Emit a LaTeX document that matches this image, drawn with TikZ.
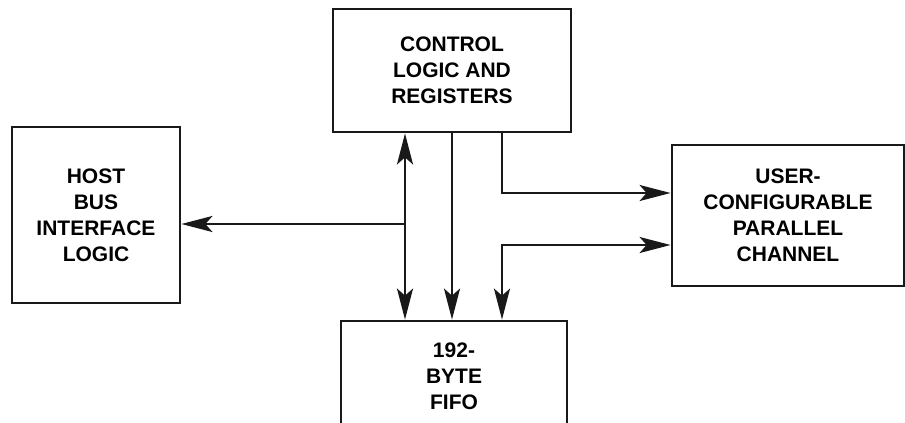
\documentclass[tikz,border=0pt]{standalone}
\usepackage{fontspec}
\setmainfont{Liberation Sans}
\usetikzlibrary{arrows.meta}

\tikzset{
  block/.style={draw=black!90,line width=2.8pt,align=center,inner sep=0pt,
    font=\fontsize{21}{26}\selectfont\bfseries},
  link/.style={draw=black!90,line width=2.4pt},
  tip/.tip={Stealth[length=31pt,width=16pt,inset=7pt]}
}

\begin{document}
\begin{tikzpicture}[x=1pt,y=-1pt]
  \useasboundingbox (0,0) rectangle (905,423);

  % blocks
  \node[block,minimum width=238pt,minimum height=123pt] (ctrl) at (452,70.5) {CONTROL\\LOGIC AND\\REGISTERS};
  \node[block,minimum width=168pt,minimum height=176pt] (host) at (96,215) {HOST\\BUS\\INTERFACE\\LOGIC};
  \node[block,minimum width=232pt,minimum height=141pt] (user) at (788,215.5) {USER-\\CONFIGURABLE\\PARALLEL\\CHANNEL};
  \node[block,minimum width=226pt,minimum height=110pt] (fifo) at (454,376) {192-\\BYTE\\FIFO};

  % taps on the buses
  \coordinate (j) at (405,224);
  \coordinate (m) at (452,0);
  \coordinate (r) at (502,0);
  \coordinate (up) at (0,193);
  \coordinate (dn) at (0,245);

  % connectors
  \draw[link,{tip}-{tip}] (ctrl.south -| j) -- (fifo.north -| j);
  \draw[link,-{tip}] (j) -- (host.east |- j);
  \draw[link,-{tip}] (ctrl.south -| m) -- (fifo.north -| m);
  \draw[link,-{tip}] (ctrl.south -| r) |- (user.west |- up);
  \draw[link,{tip}-{tip}] (user.west |- dn) -| (fifo.north -| r);
\end{tikzpicture}
\end{document}
